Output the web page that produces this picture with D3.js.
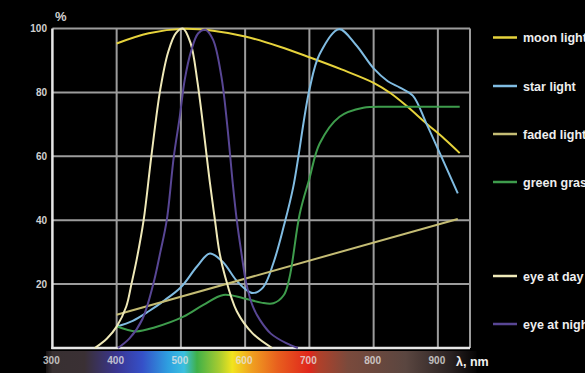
<!DOCTYPE html>
<html>
<head>
<meta charset="UTF-8">
<title>Spectra</title>
<style type="text/css">
body { margin: 0; background: #000; }
svg { display: block; }
.curve { fill: none; stroke-width: 2px; }
text { font-family: "Liberation Sans", Arial, sans-serif; font-weight: bold; }
</style>
<script src="https://d3js.org/d3.v7.min.js"></script>
</head>
<body>
<script type="text/javascript">
// wavelength ticks and percent ticks
var xTicks = [300, 400, 500, 600, 700, 800, 900];
var yTicks = [20, 40, 60, 80, 100];

// curves: [wavelength nm, percent]
var moonLight = [[400,95.3],[450,98.5],[505,99.9],[550,99.3],[600,97.5],[654,94.3],[700,91],[750,87.2],[800,83],[826,79.8],[851,75.8],[882,70.3],[910,65.5],[934,61]];
var starLight = [[400,6.7],[425,8.5],[450,11.5],[475,15],[500,19],[525,25.5],[545,29.6],[565,27],[585,21.5],[600,18.5],[612,17.2],[628,19],[644,26.6],[660,38],[675,50.5],[700,80.8],[716,92],[746,99.8],[772,95],[800,87.5],[822,83.5],[841,81.5],[861,79],[882,70.3],[903,61],[931,48.4]];
var fadedLight = [[400,10.4],[931,40.4]];
var greenGrass = [[400,6.8],[430,5.2],[460,6.5],[504,9.8],[535,13.5],[566,16.6],[597,15.6],[625,14.2],[644,14],[660,16.5],[669,22],[685,42],[700,53],[716,64],[747,72.4],[784,75.2],[830,75.5],[934,75.5]];
var eyeDay = [[366,0],[385,3],[400,6.7],[415,13],[423,20],[431,27.5],[442,40],[454,60],[468,81],[480,92.5],[492,98.5],[503,100],[515,95.5],[526,83],[545,52],[553,40],[560,30],[568,23],[587,11.5],[612,4.5],[642,0]];
var eyeNight = [[402,0],[420,3],[440,9],[457,20],[468,30],[478,40],[489,60],[498,72],[506,84],[516,93],[527,98.5],[538,99.6],[550,96.5],[563,85],[572,70],[581,51],[587,40],[594,30],[602,20],[612,13],[623,8.8],[640,4.5],[664,1.5],[682,0]];

var legendNames = ["moon light", "star light", "faded light", "green grass", "eye at day", "eye at night"];
var legendRows = [37.5, 86, 134, 182, 276, 324];
var seriesData = [moonLight, starLight, fadedLight, greenGrass, eyeDay, eyeNight];
var seriesColors = ["#e6d33c", "#80bce2", "#c4bc74", "#3e9c4c", "#efe9b8", "#584694"];

// spectrum strip under the axis: [wavelength nm, colour]
var spectrumStops = [[290,"#151212"],[300,"#383032"],[350,"#3a3034"],[400,"#3a3592"],[440,"#3550c8"],[480,"#2e9fe0"],[505,"#3cc0e0"],[525,"#3fb048"],[560,"#a8cc30"],[580,"#f2e41e"],[610,"#f0a020"],[650,"#e8601e"],[700,"#e0261c"],[715,"#b0402a"],[760,"#7a4a3c"],[850,"#5a4640"],[920,"#2a2222"],[960,"#050404"]];

var width = 585, height = 373;
var x = d3.scaleLinear().domain([300, 950]).range([52.4, 470]);
var y = d3.scaleLinear().domain([0, 100]).range([348, 28.5]);

var svg = d3.select("body").append("svg")
    .attr("width", width)
    .attr("height", height)
    .style("background", "#000");

// spectrum gradient
var grad = svg.append("defs").append("linearGradient")
    .attr("id", "spectrum")
    .attr("gradientUnits", "userSpaceOnUse")
    .attr("x1", x(290)).attr("x2", x(960))
    .attr("y1", 0).attr("y2", 0);
grad.selectAll("stop").data(spectrumStops).enter().append("stop")
    .attr("offset", function(d) { return (x(d[0]) - x(290)) / (x(960) - x(290)); })
    .attr("stop-color", function(d) { return d[1]; });

svg.append("rect")
    .attr("x", x(290)).attr("y", 351)
    .attr("width", x(960) - x(290)).attr("height", 22)
    .attr("fill", "url(#spectrum)");

// grid
svg.append("g").selectAll("line").data(xTicks.slice(1).concat([950])).enter().append("line")
    .attr("x1", function(d) { return x(d); }).attr("x2", function(d) { return x(d); })
    .attr("y1", y(100)).attr("y2", y(0))
    .attr("stroke", "#9c9c9c").attr("stroke-width", 2);
svg.append("g").selectAll("line").data(yTicks).enter().append("line")
    .attr("x1", x(300)).attr("x2", x(950))
    .attr("y1", function(d) { return y(d); }).attr("y2", function(d) { return y(d); })
    .attr("stroke", "#9c9c9c").attr("stroke-width", 2);

// axes lines
svg.append("line").attr("x1", x(300)).attr("x2", x(300)).attr("y1", y(100)).attr("y2", y(0) + 1)
    .attr("stroke", "#e6e6e6").attr("stroke-width", 2.5);
svg.append("line").attr("x1", x(300) - 1).attr("x2", x(950)).attr("y1", y(0)).attr("y2", y(0))
    .attr("stroke", "#e6e6e6").attr("stroke-width", 2.5);

// tick labels
svg.append("g").selectAll("text").data(yTicks).enter().append("text")
    .attr("x", 47).attr("y", function(d) { return y(d) + 3.5; })
    .attr("text-anchor", "end")
    .attr("fill", "#d0d0d0")
    .style("font-size", "10px")
    .text(function(d) { return d; });
svg.append("text").attr("x", 55).attr("y", 21)
    .attr("fill", "#d0d0d0").style("font-size", "13px").text("%");

svg.append("g").selectAll("text").data(xTicks).enter().append("text")
    .attr("x", function(d) { return x(d) - 1; }).attr("y", 364)
    .attr("text-anchor", "middle")
    .attr("fill", "#e4e4e4").attr("fill-opacity", 0.8)
    .style("font-size", "10px")
    .text(function(d) { return d; });
svg.append("text").attr("x", 456).attr("y", 366)
    .attr("fill", "#f0f0f0").style("font-size", "12.5px").text("λ, nm");

// curves
var line = d3.line()
    .x(function(d) { return x(d[0]); })
    .y(function(d) { return y(d[1]); })
    .curve(d3.curveCatmullRom.alpha(0.5));

svg.append("g").selectAll("path").data(seriesData).enter().append("path")
    .attr("class", "curve")
    .attr("d", line)
    .attr("stroke", function(d, i) { return seriesColors[i]; });

// legend (the names run past the right edge, as in the source picture)
var leg = svg.append("g").selectAll("g").data(legendNames).enter().append("g")
    .attr("transform", function(d, i) { return "translate(0," + legendRows[i] + ")"; });
leg.append("line").attr("x1", 493).attr("x2", 517).attr("y1", 0).attr("y2", 0)
    .attr("stroke", function(d, i) { return seriesColors[i]; }).attr("stroke-width", 2.5);
leg.append("text").attr("x", 523).attr("y", 4.5)
    .attr("fill", "#eeeeee").style("font-size", "12.5px")
    .text(function(d) { return d; });
</script>
</body>
</html>
